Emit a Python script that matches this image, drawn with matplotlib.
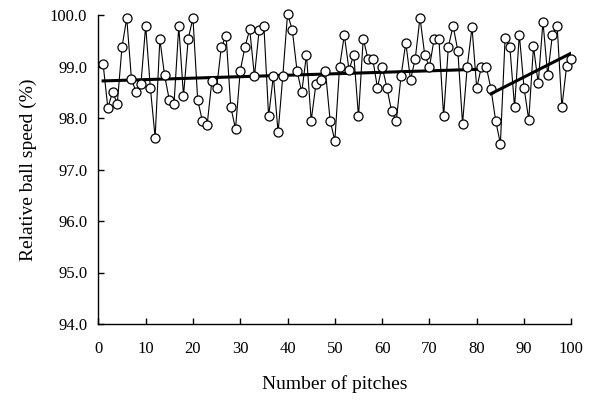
import numpy as np
import matplotlib.pyplot as plt

# relative ball speed (%) for pitches 1..100
pitch = np.arange(1, 101)
speed = [
    99.05, 98.20, 98.50, 98.28, 99.38, 99.94, 98.75, 98.50, 98.66, 99.79,
    98.58, 97.62, 99.53, 98.83, 98.35, 98.28, 99.78, 98.43, 99.54, 99.94,
    98.35, 97.94, 97.87, 98.72, 98.58, 99.38, 99.60, 98.21, 97.79, 98.92,
    99.38, 99.72, 98.81, 99.71, 99.79, 98.03, 98.82, 97.72, 98.82, 100.02,
    99.71, 98.92, 98.50, 99.23, 97.95, 98.66, 98.74, 98.92, 97.95, 97.56,
    98.99, 99.61, 98.93, 99.23, 98.03, 99.54, 99.15, 99.15, 98.59, 99.00,
    98.59, 98.13, 97.95, 98.82, 99.46, 98.74, 99.15, 99.95, 99.23, 98.99,
    99.54, 99.54, 98.03, 99.38, 99.79, 99.31, 97.89, 99.00, 99.76, 98.58,
    99.00, 99.00, 98.57, 97.95, 97.50, 99.55, 99.38, 98.21, 99.62, 98.59,
    97.96, 99.39, 98.67, 99.87, 98.83, 99.62, 99.79, 98.21, 99.01, 99.15,
]

# regression lines (start/end)
trend1_x = [1, 82]
trend1_y = [98.72, 98.95]
trend2_x = [83, 100]
trend2_y = [98.47, 99.26]

plt.rcParams['font.family'] = ['Liberation Serif', 'DejaVu Serif']

fig = plt.figure(figsize=(5.89, 4.0), dpi=100)
ax = fig.add_axes([0.167, 0.19, 0.803, 0.7725])

ax.plot(pitch, speed, color='black', lw=0.8, marker='o', markersize=6.5,
        markerfacecolor='white', markeredgecolor='black', markeredgewidth=0.9,
        clip_on=False, zorder=3)
ax.plot(trend1_x, trend1_y, color='black', lw=2.2, zorder=2)
ax.plot(trend2_x, trend2_y, color='black', lw=2.2, zorder=4)

ax.set_xlim(0, 100)
ax.set_ylim(94, 100)
ax.set_xticks(np.arange(0, 101, 10))
ax.set_yticks(np.arange(94, 100.1, 1))
ax.set_yticklabels([f"{v:.1f}" for v in np.arange(94, 100.1, 1)])

for s in ['top', 'right']:
    ax.spines[s].set_visible(False)
ax.spines['left'].set_linewidth(1.0)
ax.spines['bottom'].set_linewidth(1.0)
ax.tick_params(direction='in', length=4, width=1, labelsize=12, pad=12)
ax.tick_params(axis='y', pad=8)

ax.set_xlabel('Number of pitches', fontsize=14, labelpad=13)
ax.set_ylabel('Relative ball speed (%)', fontsize=14, labelpad=9)

fig.savefig('out.png', dpi=100)
